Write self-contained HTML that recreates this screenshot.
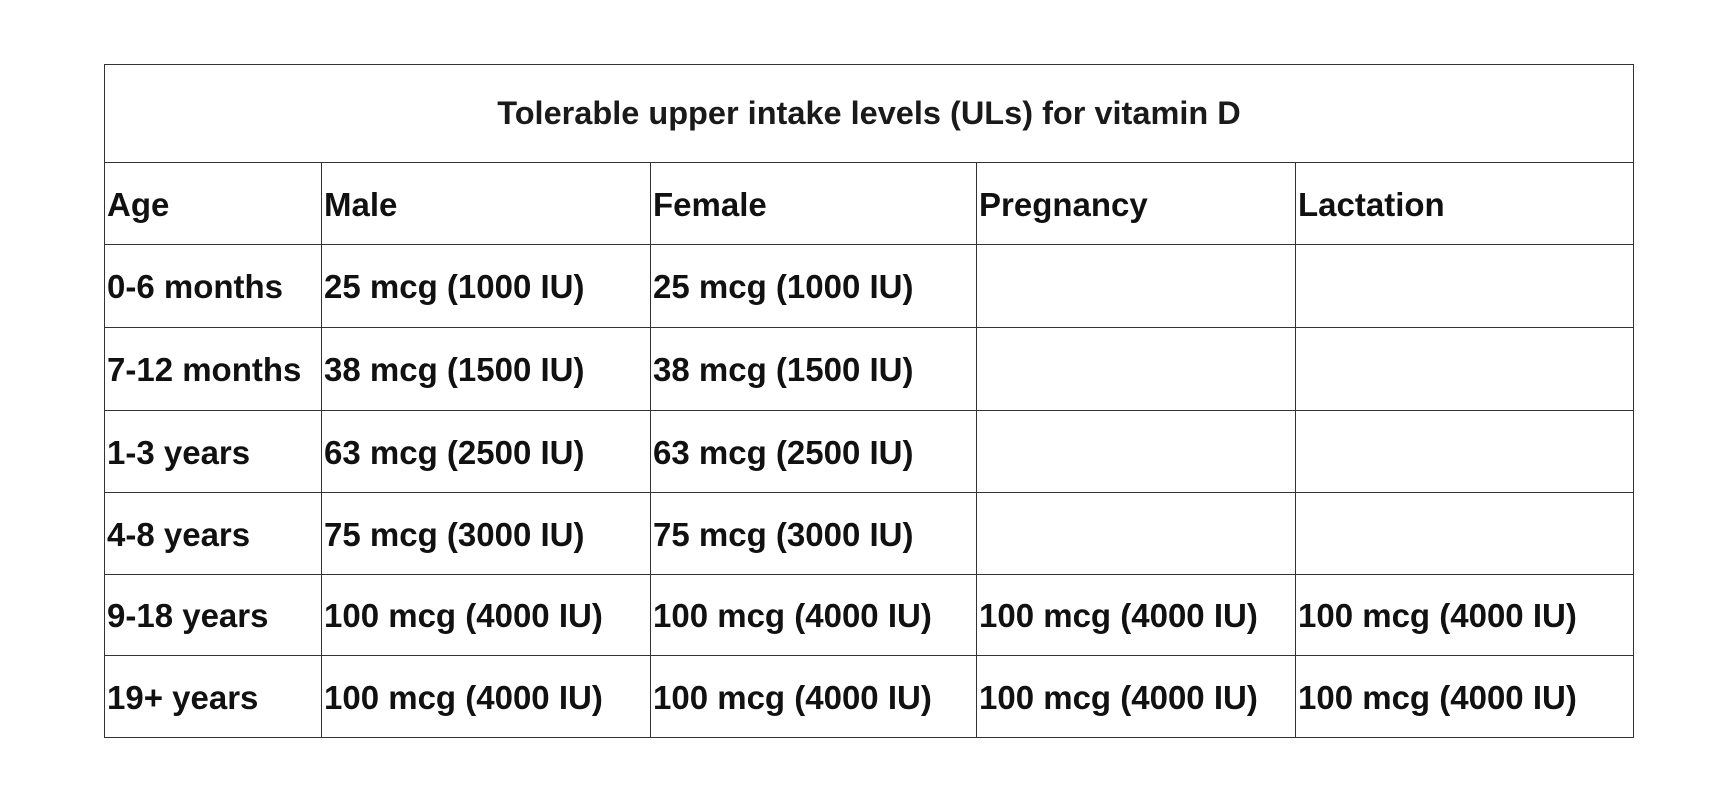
<!DOCTYPE html>
<html><head><style>
body{margin:0;width:1710px;height:798px;background:#fff;position:relative;font-family:"Liberation Sans",sans-serif;}
table{position:absolute;left:104px;top:64px;border-collapse:collapse;}
td{border:1.5px solid #333;padding:2px 0 0 2px;font-weight:bold;font-size:33px;color:#111;height:76px;box-sizing:border-box;white-space:nowrap;vertical-align:middle;}
td.t{text-align:center;font-size:32.5px;height:98px;padding:0;font-weight:bold;color:#1a1a1a;}
</style></head><body>
<table>
<colgroup><col style="width:217px"><col style="width:329px"><col style="width:326px"><col style="width:319px"><col style="width:338px"></colgroup>
<tr><td class="t" colspan="5">Tolerable upper intake levels (ULs) for vitamin D</td></tr>
<tr style="height:82px"><td>Age</td><td>Male</td><td>Female</td><td>Pregnancy</td><td>Lactation</td></tr>
<tr style="height:83px"><td>0-6 months</td><td>25 mcg (1000 IU)</td><td>25 mcg (1000 IU)</td><td></td><td></td></tr>
<tr style="height:83px"><td>7-12 months</td><td>38 mcg (1500 IU)</td><td>38 mcg (1500 IU)</td><td></td><td></td></tr>
<tr style="height:82px"><td>1-3 years</td><td>63 mcg (2500 IU)</td><td>63 mcg (2500 IU)</td><td></td><td></td></tr>
<tr style="height:82px"><td>4-8 years</td><td>75 mcg (3000 IU)</td><td>75 mcg (3000 IU)</td><td></td><td></td></tr>
<tr style="height:81px"><td>9-18 years</td><td>100 mcg (4000 IU)</td><td>100 mcg (4000 IU)</td><td>100 mcg (4000 IU)</td><td>100 mcg (4000 IU)</td></tr>
<tr style="height:82px"><td>19+ years</td><td>100 mcg (4000 IU)</td><td>100 mcg (4000 IU)</td><td>100 mcg (4000 IU)</td><td>100 mcg (4000 IU)</td></tr>
</table>
</body></html>
